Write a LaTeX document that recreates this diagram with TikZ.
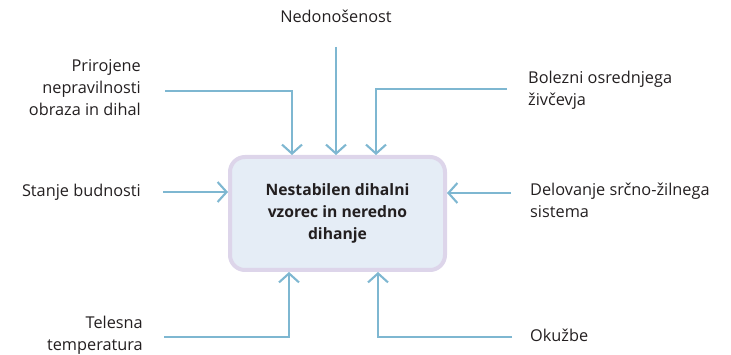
\documentclass[tikz,border=0pt]{standalone}
\usepackage{fontspec}
\setmainfont{Open Sans}
\usetikzlibrary{arrows.meta,positioning}

\definecolor{flowblue}{RGB}{126,183,209}
\definecolor{boxfill}{RGB}{229,237,246}
\definecolor{boxline}{RGB}{221,213,234}
\definecolor{ink}{RGB}{35,31,32}

\tikzset{
  cause/.style={text=ink, font=\fontsize{16.3}{22}\selectfont, inner sep=0pt},
  flow/.style={draw=flowblue, line width=2.1pt, -{Straight Barb[length=9pt,width=20pt]}},
  problem/.style={draw=boxline, fill=boxfill, line width=4pt, rounded corners=15pt,
    minimum width=215pt, minimum height=113pt, align=center, text=ink,
    font=\fontsize{15.7}{22}\selectfont\bfseries}
}

\begin{document}
\begin{tikzpicture}[x=1pt,y=-1pt]
  \useasboundingbox (0,0) rectangle (731,355);

  \node[problem] (main) at (337.5,213.5) {Nestabilen dihalni\\vzorec in neredno\\dihanje};

  \node[cause, anchor=east, align=right] (prir) at (141,88) {Prirojene\\nepravilnosti\\obraza in dihal};
  \node[cause] (nedo) at (336,16) {Nedonošenost};
  \node[cause, anchor=west, align=left] (bol) at (528,90) {Bolezni osrednjega\\živčevja};
  \node[cause, anchor=east] (budn) at (141,192) {Stanje budnosti};
  \node[cause, anchor=west, align=left] (delo) at (530,200) {Delovanje srčno-žilnega\\sistema};
  \node[cause, anchor=east, align=right] (temp) at (143,335) {Telesna\\temperatura};
  \node[cause, anchor=west] (okuz) at (530,335) {Okužbe};

  % line starts
  \coordinate (prirS) at (165,91);
  \coordinate (nedoS) at (336,47);
  \coordinate (bolS) at (507,89);
  \coordinate (budnS) at (163,192);
  \coordinate (deloS) at (511,193);
  \coordinate (tempS) at (164,337);
  \coordinate (okuzS) at (512,337);

  \draw[flow] (prirS) -| (292,0 |- main.north);
  \draw[flow] (nedoS) -- (nedoS |- main.north);
  \draw[flow] (bolS) -| (376,0 |- main.north);
  \draw[flow] (budnS) -- (budnS -| main.west);
  \draw[flow] (deloS) -- (deloS -| main.east);
  \draw[flow] (tempS) -| (289,0 |- main.south);
  \draw[flow] (okuzS) -| (378,0 |- main.south);
\end{tikzpicture}
\end{document}
